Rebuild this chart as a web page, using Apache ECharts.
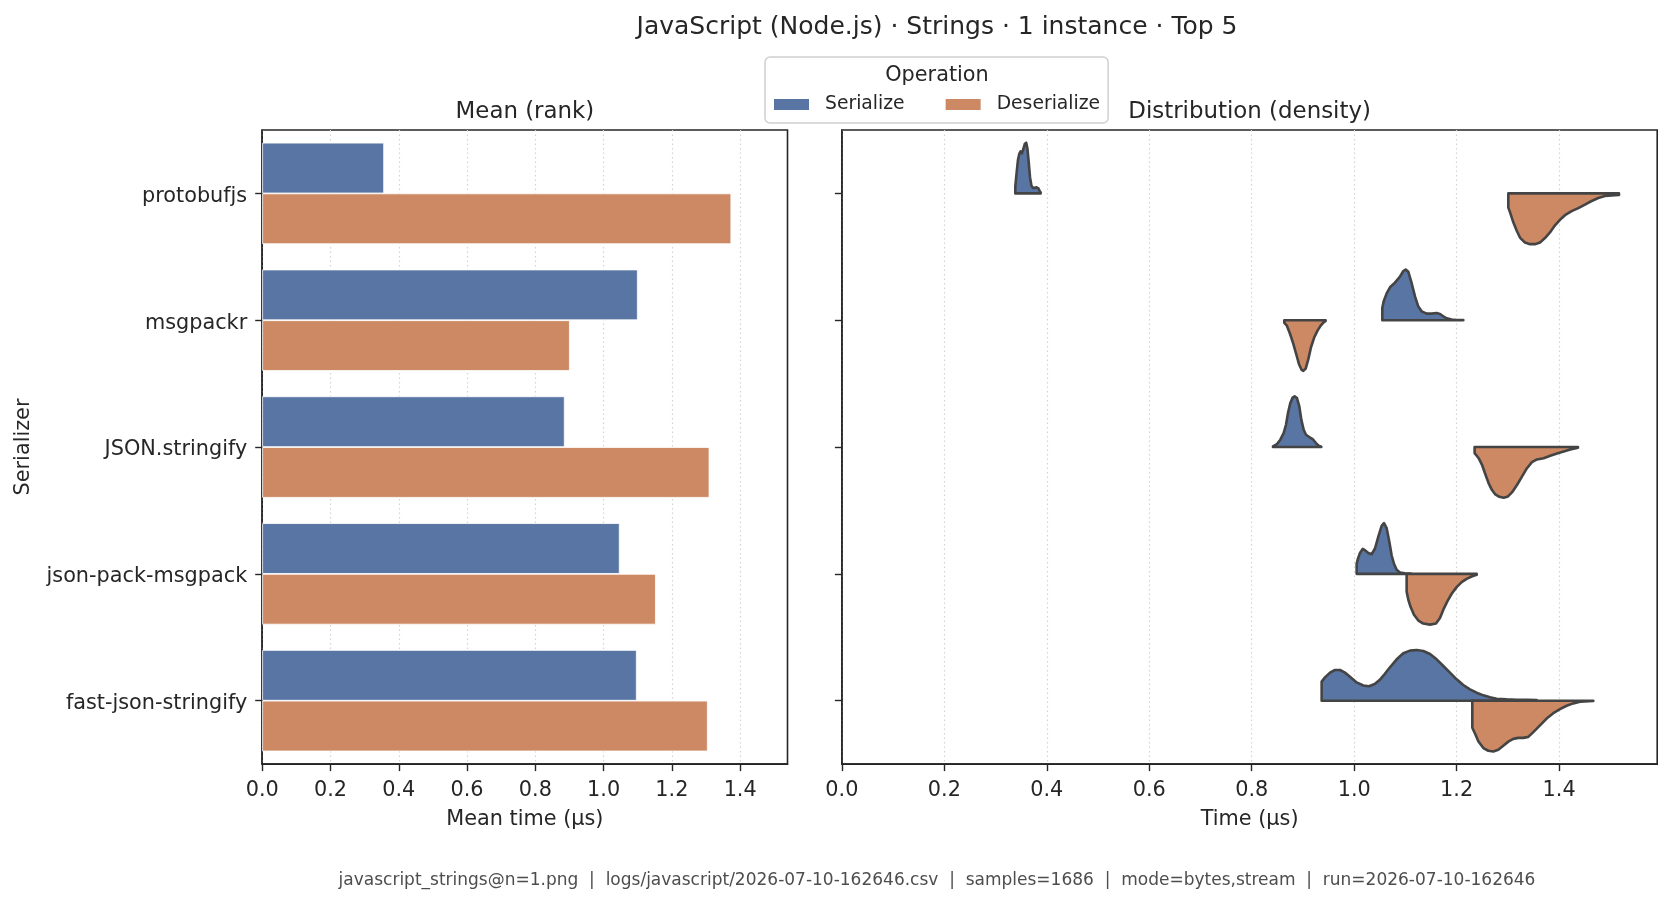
<!DOCTYPE html>
<html>
<head>
<meta charset="utf-8">
<title>JavaScript (Node.js) · Strings · 1 instance · Top 5</title>
<script src="https://cdn.jsdelivr.net/npm/echarts@6/dist/echarts.min.js"></script>
<style>
  html, body { margin: 0; padding: 0; background: #fff; }
  #chart { width: 1671px; height: 905px; }
</style>
</head>
<body>
<div id="chart"></div>
<script>
const serializers = ['protobufjs', 'msgpackr', 'JSON.stringify', 'json-pack-msgpack', 'fast-json-stringify'];
const serializeMean = [0.357, 1.100, 0.886, 1.047, 1.097];
const deserializeMean = [1.374, 0.901, 1.310, 1.153, 1.305];
const xTicks = [0, 0.2, 0.4, 0.6, 0.8, 1.0, 1.2, 1.4];

// violin outlines: [time in µs, density relative to the widest point]
const protobufjsSer = [[0.3385, 0.14], [0.3410, 0.40], [0.3437, 0.66], [0.3463, 0.78], [0.3488, 0.83], [0.3513, 0.79], [0.3540, 0.87], [0.3572, 0.98], [0.3598, 1.00], [0.3622, 0.88], [0.3648, 0.60], [0.3672, 0.32], [0.3700, 0.15], [0.3730, 0.11], [0.3765, 0.11], [0.3800, 0.12], [0.3835, 0.10], [0.3860, 0.05], [0.3880, 0.02]];
const protobufjsDeser = [[1.3009, 0.28], [1.3041, 0.37], [1.3106, 0.57], [1.3171, 0.73], [1.3236, 0.87], [1.3334, 0.97], [1.3432, 1.00], [1.3529, 1.00], [1.3627, 0.97], [1.3724, 0.88], [1.3822, 0.77], [1.3920, 0.63], [1.4017, 0.52], [1.4115, 0.43], [1.4245, 0.35], [1.4375, 0.29], [1.4505, 0.22], [1.4635, 0.15], [1.4765, 0.09], [1.4896, 0.05], [1.5026, 0.04], [1.5169, 0.03]];
const msgpackrSer = [[1.0549, 0.24], [1.0575, 0.37], [1.0634, 0.53], [1.0699, 0.65], [1.0796, 0.74], [1.0894, 0.86], [1.0959, 0.97], [1.1005, 1.00], [1.1057, 0.955], [1.1122, 0.73], [1.1187, 0.47], [1.1252, 0.27], [1.1317, 0.175], [1.1415, 0.13], [1.1512, 0.13], [1.1610, 0.143], [1.1675, 0.123], [1.1740, 0.078], [1.1805, 0.039], [1.1903, 0.013], [1.2000, 0.006], [1.2130, 0.006]];
const msgpackrDeser = [[0.8636, 0.05], [0.8682, 0.10], [0.8747, 0.267], [0.8812, 0.467], [0.8877, 0.70], [0.8923, 0.867], [0.8975, 0.98], [0.9007, 1.00], [0.9053, 0.953], [0.9105, 0.767], [0.9157, 0.533], [0.9222, 0.333], [0.9287, 0.20], [0.9352, 0.10], [0.9397, 0.047], [0.9443, 0.013]];
const jsonSer = [[0.8415, 0.013], [0.8493, 0.06], [0.8558, 0.145], [0.8623, 0.276], [0.8669, 0.44], [0.8708, 0.67], [0.8753, 0.87], [0.8799, 0.974], [0.8838, 1.00], [0.8883, 0.967], [0.8929, 0.80], [0.8968, 0.54], [0.9014, 0.342], [0.9059, 0.243], [0.9124, 0.197], [0.9189, 0.158], [0.9254, 0.079], [0.9306, 0.026], [0.9358, 0.007]];
const jsonDeser = [[1.2351, 0.12], [1.2430, 0.22], [1.2495, 0.35], [1.2560, 0.536], [1.2625, 0.715], [1.2690, 0.848], [1.2755, 0.934], [1.2833, 0.98], [1.2918, 1.00], [1.3002, 0.974], [1.3080, 0.894], [1.3178, 0.748], [1.3275, 0.583], [1.3373, 0.417], [1.3470, 0.298], [1.3568, 0.245], [1.3698, 0.219], [1.3828, 0.172], [1.3958, 0.126], [1.4089, 0.086], [1.4219, 0.046], [1.4368, 0.013]];
const jsonPackSer = [[1.0048, 0.20], [1.0074, 0.30], [1.0113, 0.413], [1.0165, 0.493], [1.0211, 0.467], [1.0276, 0.413], [1.0341, 0.387], [1.0406, 0.50], [1.0471, 0.733], [1.0536, 0.947], [1.0582, 1.00], [1.0634, 0.90], [1.0686, 0.633], [1.0731, 0.367], [1.0777, 0.20], [1.0829, 0.08], [1.0894, 0.027], [1.0992, 0.013], [1.1102, 0.007]];
const jsonPackDeser = [[1.1024, 0.35], [1.1057, 0.51], [1.1102, 0.654], [1.1167, 0.804], [1.1252, 0.92], [1.1349, 0.98], [1.1480, 1.00], [1.1597, 0.98], [1.1675, 0.87], [1.1740, 0.706], [1.1818, 0.542], [1.1903, 0.392], [1.2000, 0.261], [1.2098, 0.163], [1.2195, 0.098], [1.2293, 0.052], [1.2391, 0.02]];
const fastSer = [[0.9365, 0.375], [0.9430, 0.46], [0.9528, 0.553], [0.9625, 0.605], [0.9723, 0.605], [0.9820, 0.553], [0.9918, 0.474], [1.0048, 0.36], [1.0178, 0.30], [1.0290, 0.285], [1.0400, 0.33], [1.0500, 0.41], [1.0599, 0.53], [1.0699, 0.658], [1.0829, 0.816], [1.0959, 0.934], [1.1089, 0.987], [1.1219, 1.00], [1.1350, 0.98], [1.1480, 0.921], [1.1610, 0.816], [1.1740, 0.684], [1.1870, 0.553], [1.2000, 0.421], [1.2130, 0.309], [1.2260, 0.224], [1.2391, 0.158], [1.2521, 0.105], [1.2651, 0.066], [1.2781, 0.039], [1.2976, 0.026], [1.3172, 0.02], [1.3367, 0.02], [1.3562, 0.013]];
const fastDeser = [[1.2306, 0.533], [1.2358, 0.647], [1.2423, 0.80], [1.2521, 0.933], [1.2618, 0.987], [1.2716, 1.00], [1.2813, 0.967], [1.2911, 0.887], [1.3009, 0.807], [1.3106, 0.753], [1.3204, 0.733], [1.3301, 0.733], [1.3399, 0.713], [1.3497, 0.62], [1.3627, 0.487], [1.3757, 0.353], [1.3887, 0.247], [1.4017, 0.167], [1.4147, 0.10], [1.4277, 0.053], [1.4407, 0.02], [1.4668, 0.007]];

const serCurves = [protobufjsSer, msgpackrSer, jsonSer, jsonPackSer, fastSer];
const deserCurves = [protobufjsDeser, msgpackrDeser, jsonDeser, jsonPackDeser, fastDeser];

const FONT = '"DejaVu Sans", sans-serif';
const INK = '#262626';
const BLUE = '#5875a4';
const ORANGE = '#cc8963';
const FOOTER = 'javascript_strings@n=1.png  |  logs/javascript/2026-07-10-162646.csv  |  samples=1686  |  mode=bytes,stream  |  run=2026-07-10-162646';

const chart = echarts.init(document.getElementById('chart'), null, { renderer: 'canvas' });

// split violin half: up for serialize, down for deserialize
function violin(curves, dir) {
  return function (params, api) {
    const row = api.value(1);
    const curve = curves[row];
    const half = api.size([0, 1])[1] * 0.4;
    const pts = [api.coord([curve[0][0], row])];
    curve.forEach(([t, d]) => {
      const p = api.coord([t, row]);
      pts.push([p[0], p[1] - dir * d * half]);
    });
    pts.push(api.coord([curve[curve.length - 1][0], row]));
    return {
      type: 'polygon',
      shape: { points: pts },
      style: { fill: api.visual('color'), stroke: '#444444', lineWidth: 2.6, lineJoin: 'round' }
    };
  };
}

function valueAxis(gridIndex, max) {
  return {
    type: 'value', gridIndex, min: 0, max, interval: 0.2,
    axisLine: { show: true, lineStyle: { color: INK, width: 1.6 } },
    axisTick: { show: true, length: 7, customValues: xTicks, lineStyle: { color: INK, width: 1.4 } },
    axisLabel: {
      customValues: xTicks, margin: 16, color: INK, fontFamily: FONT, fontSize: 20.8,
      formatter: v => v.toFixed(1)
    },
    splitLine: { show: true, lineStyle: { color: '#d4d4d4', width: 1.2, type: [1.5, 3] } }
  };
}

function catAxis(gridIndex, showLabels) {
  return {
    type: 'category', gridIndex, data: serializers, inverse: true,
    axisLine: { show: true, lineStyle: { color: INK, width: 1.6 } },
    axisTick: { show: true, alignWithLabel: true, length: 7, lineStyle: { color: INK, width: 1.4 } },
    // top-aligned with a short line box: centres the text a few pixels under the tick, as matplotlib does
    axisLabel: { show: showLabels, margin: 15, color: INK, fontFamily: FONT, fontSize: 20.8, verticalAlign: 'top', lineHeight: 6 },
    splitLine: { show: false }
  };
}

function label(text, x, y, size, extra, fill) {
  return Object.assign({
    type: 'text', x, y, z: 100,
    style: { text, fill: fill || INK, font: size + 'px ' + FONT, align: 'center', verticalAlign: 'middle' }
  }, extra || {});
}

chart.setOption({
  animation: false,
  backgroundColor: '#ffffff',
  textStyle: { fontFamily: FONT },
  grid: [
    { left: 262.2, top: 130, width: 525.3, height: 634.1, show: true, borderColor: INK, borderWidth: 1.6, backgroundColor: 'transparent' },
    { left: 841.9, top: 130, width: 815.3, height: 634.1, show: true, borderColor: INK, borderWidth: 1.6, backgroundColor: 'transparent' }
  ],
  xAxis: [valueAxis(0, 1.5386), valueAxis(1, 1.5915)],
  yAxis: [catAxis(0, true), catAxis(1, false)],
  legend: {
    left: 765, top: 57,
    padding: [38, 8, 9, 7],
    itemWidth: 37, itemHeight: 13, itemGap: 39,
    borderColor: '#d0d0d0', borderWidth: 1.5, borderRadius: 5,
    backgroundColor: 'rgba(255,255,255,0.8)',
    selectedMode: false,
    textStyle: { fontFamily: FONT, fontSize: 18.75, color: INK, padding: [0, 0, 0, 10] },
    data: [{ name: 'Serialize', icon: 'rect' }, { name: 'Deserialize', icon: 'rect' }]
  },
  series: [
    {
      name: 'Serialize', type: 'bar', xAxisIndex: 0, yAxisIndex: 0,
      data: serializeMean, barCategoryGap: '20%', barGap: '0%',
      itemStyle: { color: BLUE, borderColor: '#ffffff', borderWidth: 0.8 }
    },
    {
      name: 'Deserialize', type: 'bar', xAxisIndex: 0, yAxisIndex: 0,
      data: deserializeMean, barCategoryGap: '20%', barGap: '0%',
      itemStyle: { color: ORANGE, borderColor: '#ffffff', borderWidth: 0.8 }
    },
    {
      name: 'Serialize', type: 'custom', xAxisIndex: 1, yAxisIndex: 1,
      renderItem: violin(serCurves, 1),
      itemStyle: { color: BLUE },
      encode: { x: 0, y: 1 },
      data: serCurves.map((c, i) => [c[0][0], i])
    },
    {
      name: 'Deserialize', type: 'custom', xAxisIndex: 1, yAxisIndex: 1,
      renderItem: violin(deserCurves, -1),
      itemStyle: { color: ORANGE },
      encode: { x: 0, y: 1 },
      data: deserCurves.map((c, i) => [c[0][0], i])
    }
  ],
  graphic: [
    label('JavaScript (Node.js) · Strings · 1 instance · Top 5', 937, 27.6, 25),
    label('Operation', 937, 76, 20.8),
    label('Mean (rank)', 524.9, 112, 22.9),
    label('Distribution (density)', 1249.6, 112, 22.9),
    label('Mean time (µs)', 524.9, 819.5, 20.8),
    label('Time (µs)', 1249.6, 819.5, 20.8),
    label('Serializer', 23.4, 447, 20.8, { rotation: Math.PI / 2 }),
    label(FOOTER, 937, 880.5, 17.0, null, '#4d4d4d')
  ]
});
</script>
</body>
</html>
